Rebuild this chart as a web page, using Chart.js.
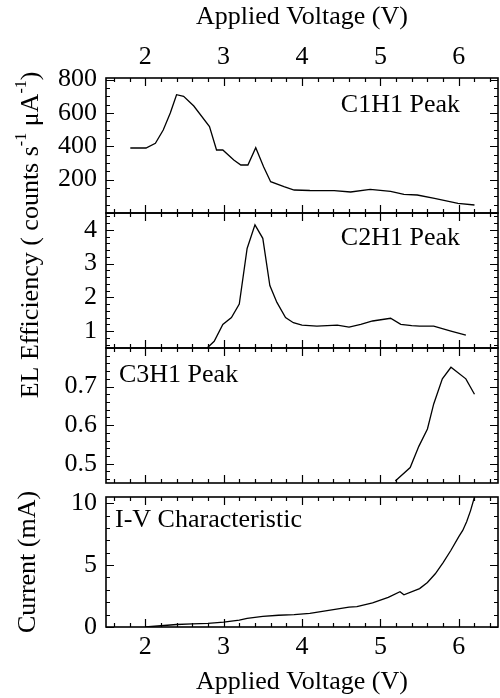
<!DOCTYPE html>
<html>
<head>
<meta charset="utf-8">
<script src="https://cdn.jsdelivr.net/npm/chart.js@4.4.1/dist/chart.umd.min.js"></script>
<style>
  html, body { margin: 0; padding: 0; background: #fff; }
  #wrap { position: relative; width: 500px; height: 698px; }
  #wrap canvas { position: absolute; left: 0; top: 0; }
</style>
</head>
<body>
<div id="wrap">
  <canvas id="c1" width="500" height="698"></canvas>
  <canvas id="c2" width="500" height="698"></canvas>
  <canvas id="c3" width="500" height="698"></canvas>
  <canvas id="c4" width="500" height="698"></canvas>
</div>
<script>
// C1H1 peak, EL efficiency (counts s^-1 uA^-1)
const c1Volts = [1.81, 2.01, 2.13, 2.23, 2.32, 2.40, 2.49, 2.62, 2.82, 2.91, 2.99, 3.13, 3.22, 3.31, 3.41, 3.51, 3.60, 3.77, 3.90, 4.10, 4.41, 4.62, 4.87, 5.13, 5.30, 5.47, 5.69, 5.99, 6.20];
const c1Eff = [390, 390, 418, 498, 600, 710, 700, 642, 518, 378, 378, 318, 288, 288, 392, 278, 188, 158, 138, 135, 134, 126, 142, 130, 112, 108, 88, 58, 48];

// C2H1 peak
const c2Volts = [2.79, 2.88, 2.99, 3.10, 3.20, 3.30, 3.40, 3.50, 3.59, 3.68, 3.79, 3.89, 4.00, 4.19, 4.45, 4.60, 4.75, 4.90, 5.13, 5.26, 5.40, 5.50, 5.68, 5.90, 6.09];
const c2Eff = [0.5, 0.7, 1.2, 1.4, 1.8, 3.45, 4.15, 3.75, 2.35, 1.85, 1.4, 1.25, 1.18, 1.15, 1.18, 1.12, 1.2, 1.3, 1.38, 1.2, 1.16, 1.15, 1.15, 1.0, 0.88];

// C3H1 peak
const c3Volts = [5.19, 5.38, 5.49, 5.60, 5.68, 5.79, 5.90, 6.09, 6.20];
const c3Eff = [0.455, 0.49, 0.545, 0.59, 0.655, 0.72, 0.75, 0.72, 0.68];

// I-V characteristic (mA)
const ivVolts = [2.0, 2.2, 2.4, 2.6, 2.8, 3.0, 3.2, 3.3, 3.5, 3.7, 3.9, 4.1, 4.3, 4.5, 4.6, 4.7, 4.9, 5.1, 5.25, 5.3, 5.5, 5.6, 5.7, 5.8, 5.9, 6.0, 6.05, 6.1, 6.15, 6.2];
const ivCurrent = [0, 0.1, 0.2, 0.25, 0.3, 0.4, 0.55, 0.7, 0.85, 0.95, 1.0, 1.1, 1.3, 1.5, 1.6, 1.65, 1.95, 2.4, 2.85, 2.6, 3.1, 3.6, 4.3, 5.2, 6.2, 7.3, 7.8, 8.5, 9.4, 10.5];

// tick labels
const voltTicks = [2, 3, 4, 5, 6];
const c1Ticks = [200, 400, 600, 800];
const c2Ticks = [1, 2, 3, 4];
const c3Ticks = [0.5, 0.6, 0.7];
const ivTicks = [0, 5, 10];

const FONT = 'Liberation Serif';
const FSIZE = 26;
const W = 500, H = 698;

// frame with inward ticks on all four sides + panel caption
const frameTicks = {
    id: 'frameTicks',
    afterDraw(chart, args, opts) {
        const { ctx, chartArea: a, scales: { x, y } } = chart;
        ctx.save();
        ctx.strokeStyle = '#000';
        ctx.lineWidth = 1.2;
        ctx.beginPath();
        // x ticks, minor every 0.2, major every 1
        for (let n = Math.ceil(x.min / 0.2); n * 0.2 <= x.max + 1e-9; n++) {
            const px = Math.round(x.getPixelForValue(n * 0.2)) + 0.5;
            const len = n % 5 === 0 ? 8 : 4;
            ctx.moveTo(px, a.top); ctx.lineTo(px, a.top + len);
            ctx.moveTo(px, a.bottom); ctx.lineTo(px, a.bottom - len);
        }
        // y ticks
        const step = opts.yMinor, ratio = Math.round(opts.yMajor / opts.yMinor);
        for (let n = Math.ceil(y.min / step - 1e-9); n * step <= y.max + 1e-9; n++) {
            const py = Math.round(y.getPixelForValue(n * step)) + 0.5;
            const len = n % ratio === 0 ? 8 : 4;
            ctx.moveTo(a.left, py); ctx.lineTo(a.left + len, py);
            ctx.moveTo(a.right, py); ctx.lineTo(a.right - len, py);
        }
        ctx.stroke();
        ctx.lineWidth = 1.6;
        ctx.strokeRect(a.left, a.top, a.right - a.left, a.bottom - a.top);

        ctx.fillStyle = '#000';
        ctx.font = FSIZE + 'px "' + FONT + '"';
        ctx.textBaseline = 'middle';
        ctx.textAlign = opts.align;
        const lx = opts.align === 'right' ? a.right - opts.dx : a.left + opts.dx;
        ctx.fillText(opts.label, lx, a.top + opts.dy);
        ctx.restore();
    }
};

// shared y title for the three EL panels
const elTitle = {
    id: 'elTitle',
    afterDraw(chart) {
        const { ctx } = chart;
        const big = FSIZE + 'px "' + FONT + '"', small = '16px "' + FONT + '"';
        const parts = [['EL Efficiency ( counts s', false], ['-1', true], [' \u03bcA', false], ['-1', true], [')', false]];
        ctx.save();
        ctx.translate(29, 235);
        ctx.rotate(-Math.PI / 2);
        ctx.fillStyle = '#000';
        ctx.textBaseline = 'alphabetic';
        let total = 0;
        parts.forEach(([t, sup]) => { ctx.font = sup ? small : big; total += ctx.measureText(t).width; });
        let px = -total / 2;
        parts.forEach(([t, sup]) => {
            ctx.font = sup ? small : big;
            ctx.fillText(t, px, sup ? -3 : 9);
            px += ctx.measureText(t).width;
        });
        ctx.restore();
    }
};

function setTicks(list) {
    return scale => { scale.ticks = list.map(v => ({ value: v })); };
}

function makePanel(id, xs, ys, cfg) {
    const showX = !!cfg.xPos;
    const tickFont = { family: FONT, size: FSIZE };
    return new Chart(document.getElementById(id), {
        type: 'line',
        data: {
            datasets: [{
                data: xs.map((v, i) => ({ x: v, y: ys[i] })),
                borderColor: '#000',
                borderWidth: 1.3,
                pointRadius: 0,
                tension: 0,
                fill: false
            }]
        },
        options: {
            responsive: false,
            animation: false,
            events: [],
            layout: { padding: { top: cfg.padTop, bottom: cfg.padBottom, left: 0, right: 2 } },
            plugins: {
                legend: { display: false },
                tooltip: { enabled: false },
                frameTicks: cfg.frame
            },
            scales: {
                x: {
                    type: 'linear',
                    min: 1.5,
                    max: 6.5,
                    display: showX,
                    position: cfg.xPos || 'bottom',
                    grid: { display: false, drawTicks: false },
                    border: { display: false },
                    ticks: { color: '#000', font: tickFont, padding: 5, maxRotation: 0 },
                    title: {
                        display: true,
                        text: 'Applied Voltage (V)',
                        color: '#000',
                        font: { family: FONT, size: FSIZE },
                        padding: { top: 2, bottom: 0 }
                    },
                    afterBuildTicks: setTicks(voltTicks),
                    afterFit: scale => { if (showX) scale.height = cfg.xHeight; }
                },
                y: {
                    type: 'linear',
                    min: cfg.yMin,
                    max: cfg.yMax,
                    grid: { display: false, drawTicks: false },
                    border: { display: false },
                    ticks: { color: '#000', font: tickFont, padding: 9 },
                    title: {
                        display: !!cfg.yTitle,
                        text: cfg.yTitle || '',
                        color: '#000',
                        font: { family: FONT, size: FSIZE },
                        padding: { top: 13, bottom: 0 }
                    },
                    afterBuildTicks: setTicks(cfg.yTicks),
                    afterFit: scale => { scale.width = 106; }
                }
            }
        },
        plugins: [frameTicks].concat(cfg.extra || [])
    });
}

makePanel('c1', c1Volts, c1Eff, {
    xPos: 'top', xHeight: 78, padTop: 0, padBottom: H - 213,
    yMin: 0, yMax: 810, yTicks: c1Ticks,
    frame: { yMinor: 50, yMajor: 200, label: 'C1H1 Peak', align: 'right', dx: 38, dy: 27 }
});

makePanel('c2', c2Volts, c2Eff, {
    padTop: 213, padBottom: H - 348,
    yMin: 0.5, yMax: 4.5, yTicks: c2Ticks,
    frame: { yMinor: 0.2, yMajor: 1, label: 'C2H1 Peak', align: 'right', dx: 38, dy: 25 },
    extra: [elTitle]
});

makePanel('c3', c3Volts, c3Eff, {
    padTop: 348, padBottom: H - 483,
    yMin: 0.45, yMax: 0.80, yTicks: c3Ticks,
    frame: { yMinor: 0.02, yMajor: 0.1, label: 'C3H1 Peak', align: 'left', dx: 13, dy: 27 }
});

makePanel('c4', ivVolts, ivCurrent, {
    xPos: 'bottom', xHeight: H - 627, padTop: 497, padBottom: 0,
    yMin: 0, yMax: 10.5, yTicks: ivTicks, yTitle: 'Current (mA)',
    frame: { yMinor: 1, yMajor: 5, label: 'I-V Characteristic', align: 'left', dx: 9, dy: 23 }
});
</script>
</body>
</html>
